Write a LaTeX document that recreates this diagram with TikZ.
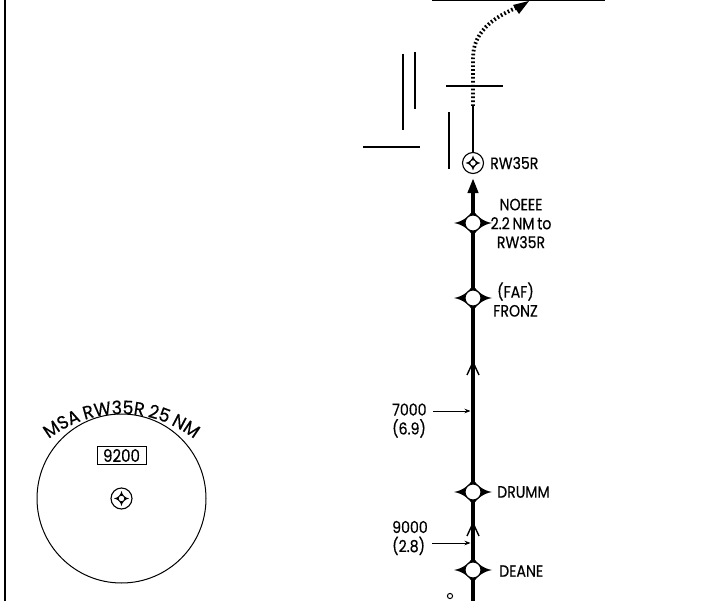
\documentclass[tikz,border=0pt]{standalone}
\usepackage{fontspec}
\setmainfont{Poppins}[FakeStretch=0.86, WordSpace=0.7, FakeBold=0.4]
\newfontfamily\msafont{Poppins}[FakeStretch=0.95, WordSpace=0.8, FakeBold=0.4]
\usetikzlibrary{arrows.meta,decorations.text}
\tikzset{
  lbl/.style={inner sep=0pt, font=\fontsize{16.5}{19}\selectfont},
  thick course/.style={line width=3.9bp},
  thin course/.style={line width=2bp},
  feature/.style={line width=2bp},
  leader/.style={line width=0.8bp, -{Stealth[length=6bp,width=4.5bp]}},
  flyby/.pic={
    \fill (-19,0) .. controls (-9,-1.5) and (-1.5,-9) .. (0,-14)
          .. controls (1.5,-9) and (9,-1.5) .. (19,0)
          .. controls (9,1.5) and (1.5,9) .. (0,14)
          .. controls (-1.5,9) and (-9,1.5) .. (-19,0) -- cycle;
    \draw[line width=1.1bp, fill=white] (0,0) circle[radius=8];
  },
  rwysym/.pic={
    \draw[line width=1.1bp, fill=white] (0,0) circle[radius=10.5];
    \fill (-7.5,0) .. controls (-3.5,-0.8) and (-0.8,-3.5) .. (0,-7.5)
          .. controls (0.8,-3.5) and (3.5,-0.8) .. (7.5,0)
          .. controls (3.5,0.8) and (0.8,3.5) .. (0,7.5)
          .. controls (-0.8,3.5) and (-3.5,0.8) .. (-7.5,0) -- cycle;
    \draw[line width=0.7bp, fill=white] (0,0) circle[radius=3.2];
  },
  barb/.pic={
    \draw[line width=1.4bp] (-6,13) .. controls (-3,6.5) .. (0,0)
                           .. controls (3,6.5) .. (6,13);
  },
}
\begin{document}
\begin{tikzpicture}[x=1bp,y=-1bp]
\useasboundingbox (0,0) rectangle (728,601);
% frame lines
\draw[line width=2bp] (4.5,0) -- (4.5,601);
\draw[line width=2bp] (432,0.5) -- (605,0.5);
% key coordinates
\coordinate (bot) at (473,601);
\coordinate (deane) at (473,570);
\coordinate (drumm) at (473,492);
\coordinate (fronz) at (473,298);
\coordinate (noeee) at (473,223);
\coordinate (rwy) at (473,163);
\coordinate (tipA) at (473,178);
\coordinate (thinEnd) at (473,106);
\coordinate (curveStart) at (473,58);
\coordinate (exitTip) at (529,1);
% runway features
\draw[feature] (403,54) -- (403,130);
\draw[feature] (415,52) -- (415,109);
\draw[feature] (363,147) -- (420,147);
\draw[feature] (449,112) -- (449,169);
\draw[feature] (446,86) -- (503,86);
% course
\draw[thick course] (bot) -- (deane);
\draw[line width=4.6bp] (deane) -- (drumm);
\draw[thick course] (drumm) -- (fronz);
\draw[thick course] (fronz) -- (noeee);
\draw[thick course, -{Triangle[length=15bp,width=10bp]}] (noeee) -- (tipA);
\draw[thin course] (rwy) ++(0,-10.5) -- (thinEnd);
\draw[line width=3.8bp, dash pattern=on 1.7bp off 2.2bp] (thinEnd) -- (curveStart)
   .. controls (473,33) and (492,18) .. (516,8);
\fill (exitTip) -- ++(-16,4) -- ++(6,9) -- cycle;
% barbs on course
\pic at (473,362) {barb};
\pic at (473,523) {barb};
% fixes
\pic at (deane) {flyby};
\pic at (drumm) {flyby};
\pic at (fronz) {flyby};
\pic at (noeee) {flyby};
\pic at (rwy) {rwysym};
\draw[line width=1bp] (450,596) circle[radius=2.6];
% labels
\node[lbl, anchor=west] (lrwy) at (490,163) {RW35R};
\node[lbl, align=center] (lnoeee) at (521,223.5) {NOEEE\\2.2 NM to\\RW35R};
\node[lbl, align=center] (lfronz) at (515.5,299.5) {(FAF)\\FRONZ};
\node[lbl, anchor=west] (ldrumm) at (497,492) {DRUMM};
\node[lbl, anchor=west] (ldeane) at (499,571) {DEANE};
\node[lbl, align=left, anchor=west] (l7000) at (392,420.5) {7000\\(6.9)};
\node[lbl, align=left, anchor=west] (l9000) at (392,538) {9000\\(2.8)};
\coordinate (ld7) at (433,411);
\coordinate (ld7e) at (470.5,411);
\coordinate (ld9) at (432,543);
\coordinate (ld9e) at (470.5,543);
\draw[leader] (ld7) -- (ld7e);
\draw[leader] (ld9) -- (ld9e);
% MSA
\coordinate (msa) at (121.5,498.5);
\draw[line width=1bp] (msa) circle[radius=84.5];
\pic at (msa) {rwysym};
\node[lbl, font=\fontsize{17.5}{19}\selectfont, draw, line width=1bp, minimum width=49bp, minimum height=18bp] (box) at (121.5,455.5) {9200};
\path[font=\msafont\fontsize{18.5}{18.5}\selectfont, decorate, decoration={text along path, text align=center,
   text={|\msafont\fontsize{18.5}{18.5}\selectfont|MSA RW35R 25 NM}}]
   (121.5,532) ++(213:118) arc[start angle=213, end angle=327, radius=118];
\end{tikzpicture}
\end{document}
